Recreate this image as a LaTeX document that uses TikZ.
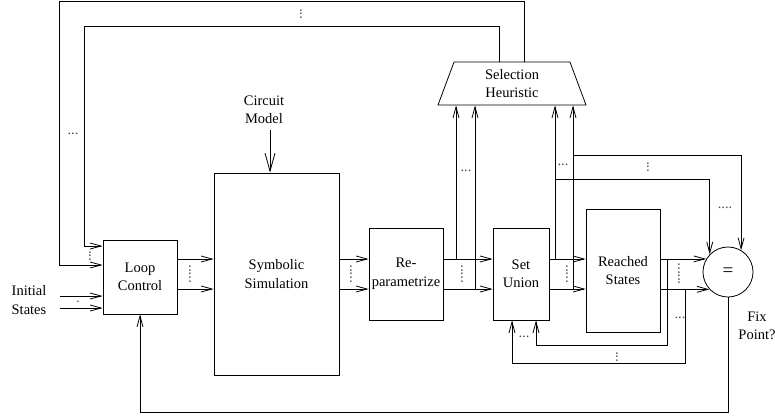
\documentclass[tikz,border=0pt]{standalone}
\usepackage{fontspec}
\setmainfont{Liberation Serif}
\usetikzlibrary{shapes.geometric,arrows.meta}

\begin{document}
\begin{tikzpicture}[x=1pt,y=-1pt,line width=0.8pt,every node/.style={font=\fontsize{14.5}{18.5}\selectfont}]
      \tikzstyle{boite}=[draw, align=center, inner sep=0pt]
      \tikzstyle{texte}=[align=center, inner sep=0pt]
      \tikzstyle{pts}=[inner sep=0pt, text=black!70]
      \tikzstyle{fleche}=[-{Straight Barb[length=11pt,width=6pt]}]
      \tikzstyle{grosse fleche}=[-{Straight Barb[length=18pt,width=10pt]}]

      \useasboundingbox (0,0) rectangle (775,418);

      \node[boite, minimum width=74pt, minimum height=74pt] (Loop) at (140,277) {Loop\\Control};
      \node[boite, minimum width=125pt, minimum height=202pt] (Sim) at (276.5,274) {Symbolic\\Simulation};
      \node[boite, minimum width=74pt, minimum height=92pt] (Rep) at (406,274) {Re-\\parametrize};
      \node[boite, minimum width=56pt, minimum height=92pt] (Uni) at (521,274) {Set\\Union};
      \node[boite, minimum width=74pt, minimum height=123pt] (Reach) at (623,270.5) {Reached\\States};
      \node[circle, draw, minimum size=50pt, inner sep=0pt, font=\fontsize{19}{22}\selectfont] (Eq) at (728,272) {=};
      \node[trapezium, draw, align=center, trapezium angle=60.8, minimum width=148pt, minimum height=43pt, trapezium stretches body, inner sep=0pt] (Heur) at (512,83.5) {Selection\\Heuristic};
      \node[texte] (Circ) at (264,110) {Circuit\\Model};
      \node[texte] (Init) at (29,300) {Initial\\States};
      \node[texte] (Fix) at (757,326) {Fix\\Point?};

      \coordinate (In1) at (60,296);
      \coordinate (In2) at (60,308);
      \coordinate (Mod) at (270,130);

      \draw[fleche] (Heur.north -| 524,0) -- (524,1) -- (59,1) -- (59,265) -- (Loop.west |- 0,265);
      \draw[fleche] (Heur.north -| 499,0) -- (499,26) -- (84,26) -- (84,246) -- (Loop.west |- 0,246);
      \draw[fleche] (In1) -- (Loop.west |- In1);
      \draw[fleche] (In2) -- (Loop.west |- In2);
      \draw[grosse fleche] (Mod) -- (Sim.north -| Mod);

      \draw[fleche] (Loop.east |- 0,259) -- (Sim.west |- 0,259);
      \draw[fleche] (Loop.east |- 0,289) -- (Sim.west |- 0,289);
      \draw[fleche] (Sim.east |- 0,259) -- (Rep.west |- 0,259);
      \draw[fleche] (Sim.east |- 0,289) -- (Rep.west |- 0,289);
      \draw[fleche] (Rep.east |- 0,259) -- (Uni.west |- 0,259);
      \draw[fleche] (Rep.east |- 0,289) -- (Uni.west |- 0,289);
      \draw[fleche] (Uni.east |- 0,259) -- (Reach.west |- 0,259);
      \draw[fleche] (Uni.east |- 0,289) -- (Reach.west |- 0,289);
      \draw[fleche] (Reach.east |- Eq.149) -- (Eq.149);
      \draw[fleche] (Reach.east |- Eq.223) -- (Eq.223);

      \draw[fleche] (456,259) -- (Heur.south -| 456,0);
      \draw[fleche] (475,289) -- (Heur.south -| 475,0);
      \draw[fleche] (555,259) -- (Heur.south -| 555,0);
      \draw[fleche] (573,289) -- (Heur.south -| 573,0);
      \draw[fleche] (555,179) -| (Eq.136);
      \draw[fleche] (573,155) -| (Eq.59);

      \draw[fleche] (667,259) -- (667,345) -| (Uni.south -| 536,0);
      \draw[fleche] (685,289) -- (685,363) -| (Uni.south -| 512,0);
      \draw[fleche] (Eq.south) -- (728,412) -| (Loop.south);

      \node[pts, rotate=90] (p1) at (301,14) {...};
      \node[pts] (p2) at (73,134) {...};
      \node[pts, rotate=90] (p3) at (90,256) {...};
      \node[pts] (p4) at (78,302) {.};
      \node[pts, rotate=90] (p5) at (190,274) {.....};
      \node[pts, rotate=90] (p6) at (351,274) {.....};
      \node[pts, rotate=90] (p7) at (462,274) {.....};
      \node[pts] (p8) at (466,171) {...};
      \node[pts] (p9) at (563,165) {...};
      \node[pts, rotate=90] (p10) at (648,167) {...};
      \node[pts] (p11) at (725,208) {....};
      \node[pts, rotate=90] (p12) at (567,274) {.....};
      \node[pts, rotate=90] (p13) at (679,274) {......};
      \node[pts] (p14) at (680,318) {...};
      \node[pts] (p15) at (524,337) {...};
      \node[pts, rotate=90] (p16) at (617,357) {...};

    \end{tikzpicture}
\end{document}
